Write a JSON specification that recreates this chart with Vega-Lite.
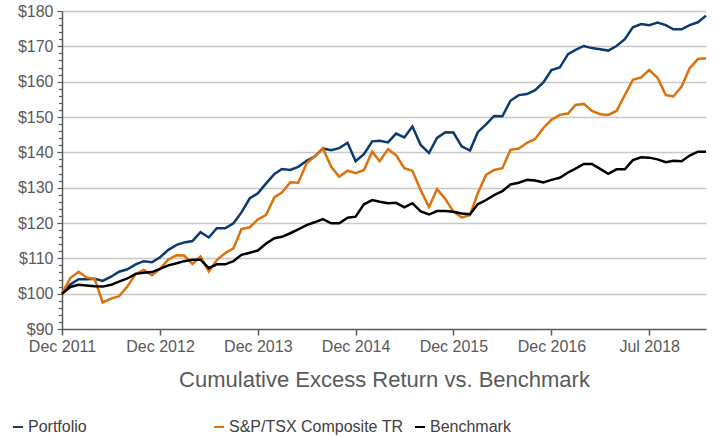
{
  "$schema": "https://vega.github.io/schema/vega-lite/v6.json",
  "width": 644,
  "height": 318,
  "autosize": {"type": "none"},
  "padding": {"left": 62, "top": 11, "right": 22, "bottom": 108},
  "background": "white",
  "config": {
    "view": {"stroke": null},
    "font": "Liberation Sans"
  },
  "data": {
    "values": [
      {"date": "2011-12-01", "Portfolio": 100.0, "S&P/TSX Composite TR": 100.0, "Benchmark": 100.0},
      {"date": "2012-01-01", "Portfolio": 102.6, "S&P/TSX Composite TR": 104.4, "Benchmark": 101.9},
      {"date": "2012-02-01", "Portfolio": 104.1, "S&P/TSX Composite TR": 106.2, "Benchmark": 102.5},
      {"date": "2012-03-01", "Portfolio": 104.1, "S&P/TSX Composite TR": 104.6, "Benchmark": 102.3},
      {"date": "2012-04-01", "Portfolio": 104.2, "S&P/TSX Composite TR": 104.1, "Benchmark": 102.1},
      {"date": "2012-05-01", "Portfolio": 103.6, "S&P/TSX Composite TR": 97.5, "Benchmark": 102.0},
      {"date": "2012-06-01", "Portfolio": 104.8, "S&P/TSX Composite TR": 98.6, "Benchmark": 102.5},
      {"date": "2012-07-01", "Portfolio": 106.2, "S&P/TSX Composite TR": 99.3, "Benchmark": 103.4},
      {"date": "2012-08-01", "Portfolio": 106.9, "S&P/TSX Composite TR": 102.0, "Benchmark": 104.3},
      {"date": "2012-09-01", "Portfolio": 108.3, "S&P/TSX Composite TR": 105.6, "Benchmark": 105.6},
      {"date": "2012-10-01", "Portfolio": 109.2, "S&P/TSX Composite TR": 106.7, "Benchmark": 105.9},
      {"date": "2012-11-01", "Portfolio": 108.9, "S&P/TSX Composite TR": 105.2, "Benchmark": 106.1},
      {"date": "2012-12-01", "Portfolio": 110.3, "S&P/TSX Composite TR": 107.0, "Benchmark": 107.0},
      {"date": "2013-01-01", "Portfolio": 112.4, "S&P/TSX Composite TR": 109.7, "Benchmark": 108.0},
      {"date": "2013-02-01", "Portfolio": 113.8, "S&P/TSX Composite TR": 110.9, "Benchmark": 108.6},
      {"date": "2013-03-01", "Portfolio": 114.5, "S&P/TSX Composite TR": 110.8, "Benchmark": 109.2},
      {"date": "2013-04-01", "Portfolio": 114.9, "S&P/TSX Composite TR": 108.4, "Benchmark": 109.6},
      {"date": "2013-05-01", "Portfolio": 117.4, "S&P/TSX Composite TR": 110.5, "Benchmark": 109.6},
      {"date": "2013-06-01", "Portfolio": 115.9, "S&P/TSX Composite TR": 106.3, "Benchmark": 107.2},
      {"date": "2013-07-01", "Portfolio": 118.5, "S&P/TSX Composite TR": 109.5, "Benchmark": 108.3},
      {"date": "2013-08-01", "Portfolio": 118.5, "S&P/TSX Composite TR": 111.5, "Benchmark": 108.3},
      {"date": "2013-09-01", "Portfolio": 119.9, "S&P/TSX Composite TR": 112.8, "Benchmark": 109.2},
      {"date": "2013-10-01", "Portfolio": 123.0, "S&P/TSX Composite TR": 118.3, "Benchmark": 111.0},
      {"date": "2013-11-01", "Portfolio": 127.0, "S&P/TSX Composite TR": 118.8, "Benchmark": 111.6},
      {"date": "2013-12-01", "Portfolio": 128.4, "S&P/TSX Composite TR": 121.0, "Benchmark": 112.2},
      {"date": "2014-01-01", "Portfolio": 131.2, "S&P/TSX Composite TR": 122.3, "Benchmark": 114.2},
      {"date": "2014-02-01", "Portfolio": 133.9, "S&P/TSX Composite TR": 127.3, "Benchmark": 115.7},
      {"date": "2014-03-01", "Portfolio": 135.3, "S&P/TSX Composite TR": 128.6, "Benchmark": 116.1},
      {"date": "2014-04-01", "Portfolio": 135.0, "S&P/TSX Composite TR": 131.5, "Benchmark": 117.1},
      {"date": "2014-05-01", "Portfolio": 135.9, "S&P/TSX Composite TR": 131.4, "Benchmark": 118.2},
      {"date": "2014-06-01", "Portfolio": 137.6, "S&P/TSX Composite TR": 136.9, "Benchmark": 119.4},
      {"date": "2014-07-01", "Portfolio": 138.8, "S&P/TSX Composite TR": 138.8, "Benchmark": 120.2},
      {"date": "2014-08-01", "Portfolio": 141.1, "S&P/TSX Composite TR": 141.1, "Benchmark": 121.1},
      {"date": "2014-09-01", "Portfolio": 140.6, "S&P/TSX Composite TR": 135.9, "Benchmark": 119.9},
      {"date": "2014-10-01", "Portfolio": 141.2, "S&P/TSX Composite TR": 133.1, "Benchmark": 119.9},
      {"date": "2014-11-01", "Portfolio": 142.7, "S&P/TSX Composite TR": 134.8, "Benchmark": 121.5},
      {"date": "2014-12-01", "Portfolio": 137.5, "S&P/TSX Composite TR": 134.1, "Benchmark": 121.8},
      {"date": "2015-01-01", "Portfolio": 139.5, "S&P/TSX Composite TR": 135.0, "Benchmark": 125.3},
      {"date": "2015-02-01", "Portfolio": 143.1, "S&P/TSX Composite TR": 140.2, "Benchmark": 126.5},
      {"date": "2015-03-01", "Portfolio": 143.3, "S&P/TSX Composite TR": 137.5, "Benchmark": 126.0},
      {"date": "2015-04-01", "Portfolio": 142.8, "S&P/TSX Composite TR": 140.9, "Benchmark": 125.6},
      {"date": "2015-05-01", "Portfolio": 145.3, "S&P/TSX Composite TR": 139.2, "Benchmark": 125.7},
      {"date": "2015-06-01", "Portfolio": 144.2, "S&P/TSX Composite TR": 135.5, "Benchmark": 124.4},
      {"date": "2015-07-01", "Portfolio": 147.3, "S&P/TSX Composite TR": 134.8, "Benchmark": 125.6},
      {"date": "2015-08-01", "Portfolio": 142.1, "S&P/TSX Composite TR": 129.3, "Benchmark": 123.3},
      {"date": "2015-09-01", "Portfolio": 139.8, "S&P/TSX Composite TR": 124.5, "Benchmark": 122.4},
      {"date": "2015-10-01", "Portfolio": 144.1, "S&P/TSX Composite TR": 129.6, "Benchmark": 123.4},
      {"date": "2015-11-01", "Portfolio": 145.7, "S&P/TSX Composite TR": 126.8, "Benchmark": 123.4},
      {"date": "2015-12-01", "Portfolio": 145.6, "S&P/TSX Composite TR": 123.2, "Benchmark": 123.2},
      {"date": "2016-01-01", "Portfolio": 141.7, "S&P/TSX Composite TR": 121.6, "Benchmark": 122.7},
      {"date": "2016-02-01", "Portfolio": 140.5, "S&P/TSX Composite TR": 122.2, "Benchmark": 122.5},
      {"date": "2016-03-01", "Portfolio": 145.7, "S&P/TSX Composite TR": 128.4, "Benchmark": 125.3},
      {"date": "2016-04-01", "Portfolio": 147.9, "S&P/TSX Composite TR": 133.6, "Benchmark": 126.5},
      {"date": "2016-05-01", "Portfolio": 150.3, "S&P/TSX Composite TR": 135.0, "Benchmark": 127.9},
      {"date": "2016-06-01", "Portfolio": 150.2, "S&P/TSX Composite TR": 135.5, "Benchmark": 129.0},
      {"date": "2016-07-01", "Portfolio": 154.6, "S&P/TSX Composite TR": 140.7, "Benchmark": 130.9},
      {"date": "2016-08-01", "Portfolio": 156.2, "S&P/TSX Composite TR": 141.1, "Benchmark": 131.4},
      {"date": "2016-09-01", "Portfolio": 156.5, "S&P/TSX Composite TR": 142.7, "Benchmark": 132.2},
      {"date": "2016-10-01", "Portfolio": 157.6, "S&P/TSX Composite TR": 143.8, "Benchmark": 132.0},
      {"date": "2016-11-01", "Portfolio": 159.8, "S&P/TSX Composite TR": 146.9, "Benchmark": 131.5},
      {"date": "2016-12-01", "Portfolio": 163.3, "S&P/TSX Composite TR": 149.2, "Benchmark": 132.2},
      {"date": "2017-01-01", "Portfolio": 164.0, "S&P/TSX Composite TR": 150.6, "Benchmark": 132.8},
      {"date": "2017-02-01", "Portfolio": 167.8, "S&P/TSX Composite TR": 151.0, "Benchmark": 134.3},
      {"date": "2017-03-01", "Portfolio": 169.0, "S&P/TSX Composite TR": 153.4, "Benchmark": 135.4},
      {"date": "2017-04-01", "Portfolio": 170.1, "S&P/TSX Composite TR": 153.7, "Benchmark": 136.7},
      {"date": "2017-05-01", "Portfolio": 169.5, "S&P/TSX Composite TR": 151.7, "Benchmark": 136.7},
      {"date": "2017-06-01", "Portfolio": 169.2, "S&P/TSX Composite TR": 150.8, "Benchmark": 135.3},
      {"date": "2017-07-01", "Portfolio": 168.8, "S&P/TSX Composite TR": 150.6, "Benchmark": 133.9},
      {"date": "2017-08-01", "Portfolio": 170.1, "S&P/TSX Composite TR": 151.7, "Benchmark": 135.2},
      {"date": "2017-09-01", "Portfolio": 172.0, "S&P/TSX Composite TR": 156.2, "Benchmark": 135.2},
      {"date": "2017-10-01", "Portfolio": 175.4, "S&P/TSX Composite TR": 160.5, "Benchmark": 137.8},
      {"date": "2017-11-01", "Portfolio": 176.3, "S&P/TSX Composite TR": 161.2, "Benchmark": 138.6},
      {"date": "2017-12-01", "Portfolio": 176.0, "S&P/TSX Composite TR": 163.3, "Benchmark": 138.5},
      {"date": "2018-01-01", "Portfolio": 176.7, "S&P/TSX Composite TR": 161.1, "Benchmark": 138.0},
      {"date": "2018-02-01", "Portfolio": 176.0, "S&P/TSX Composite TR": 156.2, "Benchmark": 137.2},
      {"date": "2018-03-01", "Portfolio": 174.8, "S&P/TSX Composite TR": 155.8, "Benchmark": 137.6},
      {"date": "2018-04-01", "Portfolio": 174.8, "S&P/TSX Composite TR": 158.6, "Benchmark": 137.5},
      {"date": "2018-05-01", "Portfolio": 176.0, "S&P/TSX Composite TR": 163.8, "Benchmark": 139.1},
      {"date": "2018-06-01", "Portfolio": 176.8, "S&P/TSX Composite TR": 166.4, "Benchmark": 140.2},
      {"date": "2018-07-01", "Portfolio": 178.7, "S&P/TSX Composite TR": 166.6, "Benchmark": 140.2}
    ]
  },
  "transform": [
    {"fold": ["Portfolio", "S&P/TSX Composite TR", "Benchmark"], "as": ["series", "value"]}
  ],
  "mark": {"type": "line", "strokeWidth": 2.5, "strokeJoin": "miter", "interpolate": "linear"},
  "encoding": {
    "x": {
      "field": "date",
      "type": "temporal",
      "scale": {"type": "utc", "nice": false},
      "axis": {
        "values": [
          {"year": 2011, "month": 12, "date": 1, "utc": true},
          {"year": 2012, "month": 12, "date": 1, "utc": true},
          {"year": 2013, "month": 12, "date": 1, "utc": true},
          {"year": 2014, "month": 12, "date": 1, "utc": true},
          {"year": 2015, "month": 12, "date": 1, "utc": true},
          {"year": 2016, "month": 12, "date": 1, "utc": true},
          {"year": 2017, "month": 12, "date": 1, "utc": true}
        ],
        "labelExpr": "utcyear(datum.value) == 2017 ? 'Jul 2018' : utcFormat(datum.value, '%b %Y')",
        "grid": false,
        "domainColor": "#595959",
        "domainWidth": 1.5,
        "tickColor": "#595959",
        "tickWidth": 1.5,
        "tickSize": 6,
        "labelFontSize": 16,
        "labelColor": "#595959",
        "labelPadding": 3,
        "labelOverlap": false,
        "labelFlush": false,
        "title": "Cumulative Excess Return vs. Benchmark",
        "titleFontSize": 22,
        "titleFontWeight": "normal",
        "titleColor": "#595959",
        "titlePadding": 15
      }
    },
    "y": {
      "field": "value",
      "type": "quantitative",
      "scale": {"domain": [90, 180], "nice": false, "zero": false},
      "axis": {
        "values": [90, 92, 94, 96, 98, 100, 102, 104, 106, 108, 110, 112, 114, 116, 118, 120, 122, 124, 126, 128, 130, 132, 134, 136, 138, 140, 142, 144, 146, 148, 150, 152, 154, 156, 158, 160, 162, 164, 166, 168, 170, 172, 174, 176, 178, 180],
        "labelExpr": "datum.value % 10 === 0 ? '$' + datum.value : ''",
        "gridColor": "#c8c8c8",
        "gridWidth": 1.5,
        "gridOpacity": {"condition": {"test": "datum.value % 10 === 0 && datum.value > 90", "value": 1}, "value": 0},
        "tickSize": {"condition": {"test": "datum.value % 10 === 0", "value": 5}, "value": 3.5},
        "tickColor": "#595959",
        "tickWidth": 1.2,
        "domainColor": "#595959",
        "domainWidth": 1.5,
        "labelFontSize": 16,
        "labelColor": "#595959",
        "labelPadding": 4,
        "labelOverlap": false,
        "labelFlush": false,
        "encode": {"labels": {"update": {"dy": {"signal": "datum.value === 180 ? 6 : 0"}}}},
        "title": null
      }
    },
    "color": {
      "field": "series",
      "type": "nominal",
      "scale": {
        "domain": ["Portfolio", "S&P/TSX Composite TR", "Benchmark"],
        "range": ["#0b3b6d", "#dd720a", "#000000"]
      },
      "legend": {
        "title": null,
        "orient": "none",
        "legendX": -52,
        "legendY": 408,
        "direction": "horizontal",
        "columns": 3,
        "gridAlign": "all",
        "columnPadding": 7,
        "symbolType": "stroke",
        "symbolSize": 100,
        "symbolStrokeWidth": 2,
        "labelFontSize": 16,
        "labelColor": "#404040",
        "labelOffset": 2,
        "labelLimit": 300
      }
    }
  }
}
